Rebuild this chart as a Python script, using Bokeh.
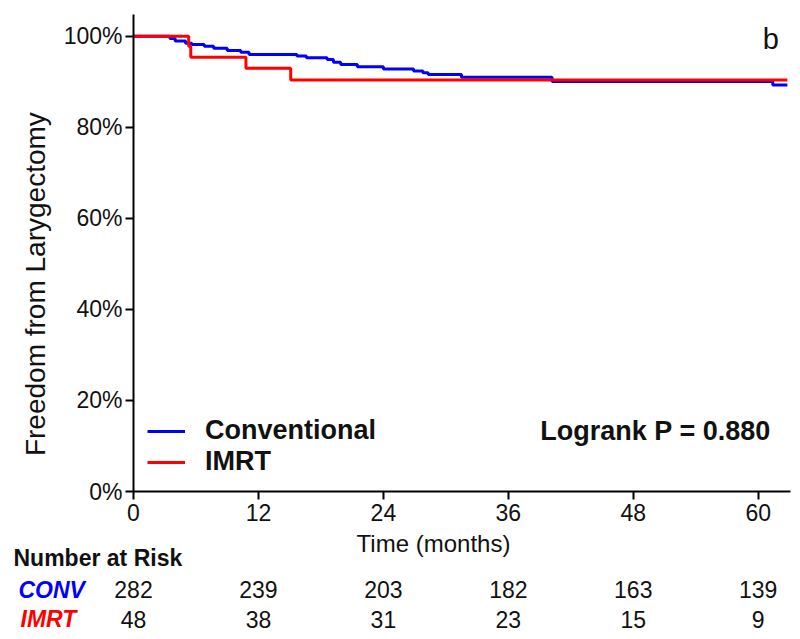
import math
from bokeh.plotting import figure
from bokeh.layouts import column, row
from bokeh.core.properties import value
from bokeh.models import (Label, LabelSet, ColumnDataSource, Legend, LegendItem,
                          FixedTicker, PrintfTickFormatter, Range1d)
from bokeh.embed import file_html
from bokeh.resources import INLINE

# ---- data ----
conv_time = [0, 3.5, 4.0, 5.0, 5.6, 6.8, 7.7, 9.0, 10.3, 11.1, 15.7, 16.6, 18.6, 19.2,
             19.9, 21.5, 24.0, 26.9, 27.8, 28.3, 31.5, 40.2, 61.4, 62.8]
conv_surv = [100, 99.5, 99.0, 98.5, 98.2, 97.8, 97.4, 96.9, 96.5, 96.0, 95.7, 95.3, 94.9, 94.3,
             93.8, 93.3, 92.8, 92.4, 92.0, 91.6, 91.0, 90.1, 89.3, 89.3]
imrt_time = [0, 5.3, 5.5, 10.8, 15.1, 62.8]
imrt_surv = [100, 97.8, 95.4, 93.0, 90.4, 90.4]

risk_times = [0, 12, 24, 36, 48, 60]
risk_conv = ["282", "239", "203", "182", "163", "139"]
risk_imrt = ["48", "38", "31", "23", "15", "9"]
y_ticks = [0, 20, 40, 60, 80, 100]

FONT = "Liberation Sans"
BLUE = "#0000FF"
RED = "#FF0000"
TXT = "#111111"

W = 796
LAB_W = 58
H1 = 529
H2 = 107
X_END = 63.1
Y_END = 104.8
FRAME_LEFT = 133
FRAME_RIGHT = 790
FRAME_TOP = 14
FRAME_BOTTOM = 491
PX_PER_MONTH = (FRAME_RIGHT - FRAME_LEFT) / X_END


def bare(fig):
    fig.outline_line_color = None
    fig.xgrid.visible = False
    fig.ygrid.visible = False
    fig.background_fill_color = "white"
    fig.border_fill_color = "white"
    return fig


# ---- left strip with the y-axis title ----
lab = bare(figure(width=LAB_W, height=H1, output_backend="svg", toolbar_location=None,
                  x_range=Range1d(0, LAB_W), y_range=Range1d(0, H1),
                  x_axis_type=None, y_axis_type=None, min_border=0))
lab.add_layout(Label(x=35, y=H1 - 299, text="Freedom from Larygectomy", angle=math.pi / 2,
                     text_align="center", text_baseline="middle", text_font=FONT,
                     text_font_size="28px", text_color=TXT))

# ---- main KM plot ----
p = bare(figure(width=W - LAB_W, height=H1, output_backend="svg", toolbar_location=None,
                x_range=Range1d(0, X_END), y_range=Range1d(0, Y_END),
                min_border_left=FRAME_LEFT - LAB_W, min_border_right=W - FRAME_RIGHT,
                min_border_top=FRAME_TOP, min_border_bottom=H1 - FRAME_BOTTOM))

r_conv = p.step(conv_time, conv_surv, mode="after", line_color=BLUE, line_width=3)
r_imrt = p.step(imrt_time, imrt_surv, mode="after", line_color=RED, line_width=3)

for ax in (p.xaxis[0], p.yaxis[0]):
    ax.axis_line_width = 2
    ax.axis_line_color = "black"
    ax.major_tick_line_width = 2
    ax.major_tick_line_color = "black"
    ax.major_tick_out = 8
    ax.major_tick_in = 0
    ax.minor_tick_out = 0
    ax.minor_tick_in = 0
    ax.major_label_text_font = FONT
    ax.major_label_text_font_size = "23px"
    ax.major_label_text_color = TXT

p.xaxis.ticker = FixedTicker(ticks=risk_times)
p.xaxis.major_label_standoff = 4
p.yaxis.ticker = FixedTicker(ticks=y_ticks)
p.yaxis.formatter = PrintfTickFormatter(format="%d%%")
p.yaxis.major_label_standoff = 3

legend = Legend(items=[LegendItem(label="Conventional", renderers=[r_conv]),
                       LegendItem(label="IMRT", renderers=[r_imrt])],
                location=(14, 14), glyph_width=38, glyph_height=20, label_height=20,
                label_standoff=20, spacing=-4, padding=0, margin=0,
                border_line_alpha=0, background_fill_alpha=0,
                label_text_font=FONT, label_text_font_size="27px",
                label_text_font_style="bold", label_text_color=TXT)
p.add_layout(legend)

p.add_layout(Label(x=61.2, y=13.2, text="Logrank P = 0.880", text_align="right",
                   text_baseline="alphabetic", text_font=FONT, text_font_size="27px",
                   text_font_style="bold", text_color=TXT))
p.add_layout(Label(x=61.2, y=99.4, text="b", text_align="center",
                   text_baseline="alphabetic", text_font=FONT, text_font_size="29px",
                   text_color=TXT))

# ---- bottom strip: x title and number-at-risk table ----
tab = bare(figure(width=W, height=H2, output_backend="svg", toolbar_location=None,
                  x_range=Range1d(-FRAME_LEFT / PX_PER_MONTH, (W - FRAME_LEFT) / PX_PER_MONTH),
                  y_range=Range1d(0, H2), x_axis_type=None, y_axis_type=None, min_border=0))
total_h = H1 + H2


def ty(page_y):
    return total_h - page_y


def tx(page_x):
    return (page_x - FRAME_LEFT) / PX_PER_MONTH


tab.add_layout(Label(x=tx(433), y=ty(543), text="Time (months)", text_align="center",
                     text_baseline="middle", text_font=FONT, text_font_size="24px",
                     text_color=TXT))
tab.add_layout(Label(x=tx(13), y=ty(557), text="Number at Risk", text_align="left",
                     text_baseline="middle", text_font=FONT, text_font_size="23px",
                     text_font_style="bold", text_color=TXT))
tab.add_layout(Label(x=tx(18), y=ty(589), text="CONV", text_align="left",
                     text_baseline="middle", text_font=FONT, text_font_size="23px",
                     text_font_style="bold italic", text_color=BLUE))
tab.add_layout(Label(x=tx(20), y=ty(618), text="IMRT", text_align="left",
                     text_baseline="middle", text_font=FONT, text_font_size="23px",
                     text_font_style="bold italic", text_color=RED))

src = ColumnDataSource(data=dict(t=risk_times, conv=risk_conv, imrt=risk_imrt,
                                 yc=[ty(589)] * len(risk_times), yi=[ty(619)] * len(risk_times)))
tab.add_layout(LabelSet(x="t", y="yc", text="conv", source=src, text_align="center",
                        text_baseline="middle", text_font=value(FONT),
                        text_font_size=value("23px"), text_color=TXT))
tab.add_layout(LabelSet(x="t", y="yi", text="imrt", source=src, text_align="center",
                        text_baseline="middle", text_font=value(FONT),
                        text_font_size=value("23px"), text_color=TXT))

layout = column(row(lab, p, spacing=0), tab, spacing=0)
open("out.html", "w").write(file_html(layout, INLINE))
